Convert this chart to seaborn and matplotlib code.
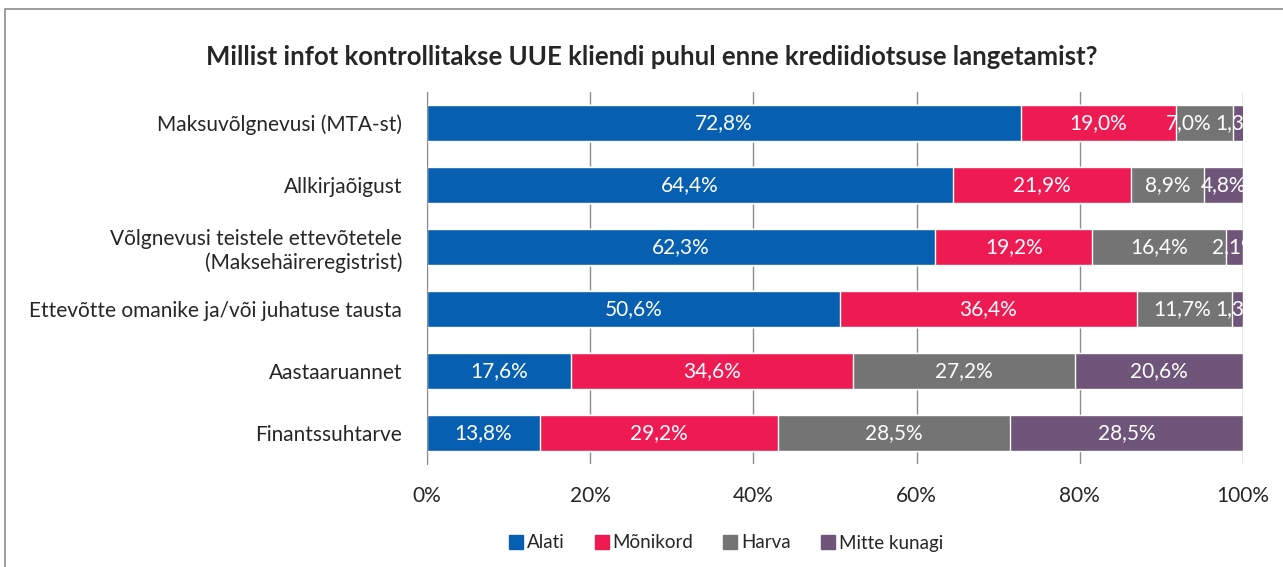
import seaborn as sns
import matplotlib.pyplot as plt
import pandas as pd
from matplotlib.patches import Rectangle

# andmed
kategooriad = ['Maksuvõlgnevusi (MTA-st)', 'Allkirjaõigust',
               'Võlgnevusi teistele ettevõtetele\n(Maksehäireregistrist)',
               'Ettevõtte omanike ja/või juhatuse tausta',
               'Aastaaruannet', 'Finantssuhtarve']
seeriad = ['Alati', 'Mõnikord', 'Harva', 'Mitte kunagi']
alati = [72.8, 64.4, 62.3, 50.6, 17.6, 13.8]
monikord = [19.0, 21.9, 19.2, 36.4, 34.6, 29.2]
harva = [7.0, 8.9, 16.4, 11.7, 27.2, 28.5]
mitte_kunagi = [1.3, 4.8, 2.1, 1.3, 20.6, 28.5]
x_sildid = ['0%', '20%', '40%', '60%', '80%', '100%']

varvid = ['#065FB0', '#EE1B52', '#747474', '#70557A']

sns.set_style('white')
plt.rcParams['font.family'] = ['Lato', 'DejaVu Sans']

df = pd.DataFrame({'kat': kategooriad, 'Alati': alati, 'Mõnikord': monikord,
                   'Harva': harva, 'Mitte kunagi': mitte_kunagi})
kum = df[seeriad].cumsum(axis=1)

fig = plt.figure(figsize=(12.83, 5.67), dpi=100)
ax = fig.add_axes([427 / 1283, 1 - 464 / 567, (1243 - 427) / 1283, 372 / 567])

# kuhjatud tulbad: joonistame kumulatiivsed summad tagant ettepoole
for s, c in reversed(list(zip(seeriad, varvid))):
    sns.barplot(x=kum[s], y=df['kat'], color=c, orient='h', width=0.58,
                saturation=1, ax=ax, zorder=3)

ax.set_xlim(0, 100)
ax.set_ylim(5.5, -0.5)

sildid = []
for i in range(len(kategooriad)):
    rida = []
    for s in seeriad:
        v = df.loc[i, s]
        keskel = kum.loc[i, s] - v / 2
        t = ax.text(keskel, i, f'{v:.1f}%'.replace('.', ','), ha='center', va='center',
                    color='white', fontsize=15, zorder=5, clip_on=True)
        rida.append(t)
    sildid.append(rida)

# kattuvad sildid nihutatakse vasakule (nagu Excel)
fig.canvas.draw()
r = fig.canvas.get_renderer()
px_per_unit = ax.transData.transform((1, 0))[0] - ax.transData.transform((0, 0))[0]
for rida in sildid:
    for j in range(len(rida) - 2, -1, -1):
        a = rida[j].get_window_extent(r)
        b = rida[j + 1].get_window_extent(r)
        ule = a.x1 + 4 - b.x0
        if ule > 0:
            x, y = rida[j].get_position()
            rida[j].set_position((x - ule / px_per_unit, y))

ax.set_xticks([0, 20, 40, 60, 80, 100])
ax.set_xticklabels(x_sildid, fontsize=15)
ax.tick_params(axis='y', labelsize=15, length=0, pad=18)
ax.tick_params(axis='x', length=0, pad=16)
ax.set_xlabel('')
ax.set_ylabel('')
ax.grid(axis='x', color='#8c8c8c', linewidth=1, zorder=0)
ax.set_axisbelow(True)
for sp in ['top', 'right', 'bottom']:
    ax.spines[sp].set_visible(False)
ax.spines['left'].set_color('#8c8c8c')
ax.spines['left'].set_zorder(4)

fig.text(652 / 1283, 1 - 57 / 567,
         'Millist infot kontrollitakse UUE kliendi puhul enne krediidiotsuse langetamist?',
         ha='center', va='center', fontsize=18.5, fontweight='bold')

kastid = [plt.Rectangle((0, 0), 1, 1, color=c) for c in varvid]
fig.legend(kastid, seeriad, loc='center', bbox_to_anchor=(726 / 1283, 1 - 543 / 567),
           ncol=4, frameon=False, fontsize=13.5, handlelength=0.75, handleheight=0.75,
           handletextpad=0.2, columnspacing=1.6)

# raam
fig.patches.append(Rectangle((5 / 1283, -0.1), 1.5, 1 - 9 / 567 + 0.1,
                             transform=fig.transFigure, fill=False,
                             edgecolor='#8c8c8c', linewidth=1.2))

plt.savefig('out.png', dpi=100)
